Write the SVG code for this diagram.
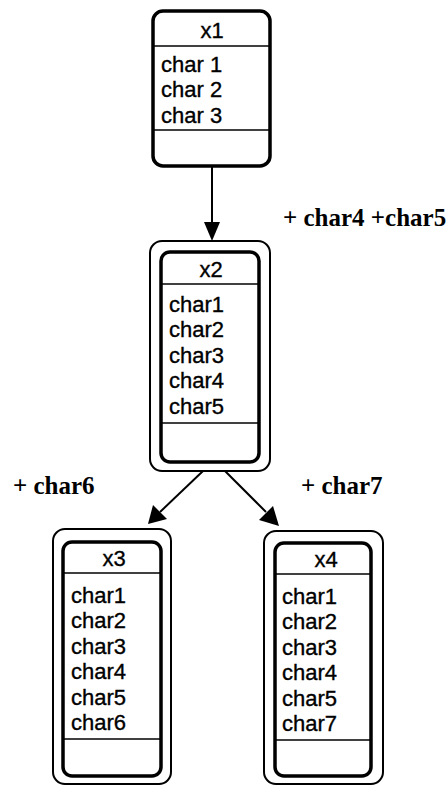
<svg xmlns="http://www.w3.org/2000/svg" width="446" height="787" viewBox="0 0 446 787">
<style>
.t{font-family:"Liberation Sans",Arial,sans-serif;font-size:22px;fill:#000;stroke:#000;stroke-width:0.35}
.h{font-family:"Liberation Sans",Arial,sans-serif;font-size:22px;fill:#000;stroke:#000;stroke-width:0.35;text-anchor:middle}
.lbl{font-family:"Liberation Serif","Times New Roman",serif;font-size:25px;font-weight:bold;fill:#000}
.outer{fill:#fff;stroke:#000;stroke-width:2}
.inner{fill:none;stroke:#000;stroke-width:3.5}
.thick{fill:#fff;stroke:#000;stroke-width:3.5}
.div{stroke:#000;stroke-width:1.5}
.con{stroke:#000;stroke-width:2;fill:none}
.head{fill:#000}
</style>
<rect width="446" height="787" fill="#fff"/>
<g id="connectors">
<line class="con" x1="212" y1="167" x2="212" y2="226"/>
<path class="head" d="M204,222 L220,222 L212,241 z"/>
<line class="con" x1="203" y1="471" x2="160" y2="512"/>
<path class="head" d="M148,524 L153,505 L167,519 z"/>
<line class="con" x1="225" y1="471" x2="266" y2="512"/>
<path class="head" d="M279,526 L259,520 L273,506 z"/>
</g>
<g id="x1">
<rect class="thick" x="153" y="11" width="117" height="155" rx="10"/>
<line class="div" x1="154" y1="46" x2="269" y2="46"/>
<line class="div" x1="154" y1="130" x2="269" y2="130"/>
<text class="h" x="212" y="38">x1</text>
<text class="t" x="161" y="72">char 1</text>
<text class="t" x="161" y="97">char 2</text>
<text class="t" x="161" y="123">char 3</text>
</g>
<g id="x2">
<rect class="outer" x="150" y="241" width="120" height="230" rx="12"/>
<rect class="inner" x="161" y="252" width="98" height="210" rx="9"/>
<line class="div" x1="162" y1="284" x2="258" y2="284"/>
<line class="div" x1="162" y1="423" x2="258" y2="423"/>
<text class="h" x="211" y="277">x2</text>
<text class="t" x="169" y="312">char1</text>
<text class="t" x="169" y="337">char2</text>
<text class="t" x="169" y="363">char3</text>
<text class="t" x="169" y="388">char4</text>
<text class="t" x="169" y="414">char5</text>
</g>
<g id="x3">
<rect class="outer" x="53" y="529" width="118" height="255" rx="12"/>
<rect class="inner" x="63" y="542" width="98" height="234" rx="9"/>
<line class="div" x1="64" y1="573" x2="160" y2="573"/>
<line class="div" x1="64" y1="739" x2="160" y2="739"/>
<text class="h" x="114" y="566">x3</text>
<text class="t" x="71" y="603">char1</text>
<text class="t" x="71" y="628">char2</text>
<text class="t" x="71" y="654">char3</text>
<text class="t" x="71" y="679">char4</text>
<text class="t" x="71" y="705">char5</text>
<text class="t" x="71" y="730">char6</text>
</g>
<g id="x4">
<rect class="outer" x="264" y="531" width="119" height="253" rx="12"/>
<rect class="inner" x="275" y="543" width="96" height="233" rx="9"/>
<line class="div" x1="276" y1="574" x2="370" y2="574"/>
<line class="div" x1="276" y1="740" x2="370" y2="740"/>
<text class="h" x="326" y="567">x4</text>
<text class="t" x="282" y="604">char1</text>
<text class="t" x="282" y="629">char2</text>
<text class="t" x="282" y="655">char3</text>
<text class="t" x="282" y="680">char4</text>
<text class="t" x="282" y="706">char5</text>
<text class="t" x="282" y="731">char7</text>
</g>
<g id="labels">
<text class="lbl" x="283" y="226">+ char4 +char5</text>
<text class="lbl" x="13" y="494">+ char6</text>
<text class="lbl" x="301" y="494">+ char7</text>
</g>
</svg>
